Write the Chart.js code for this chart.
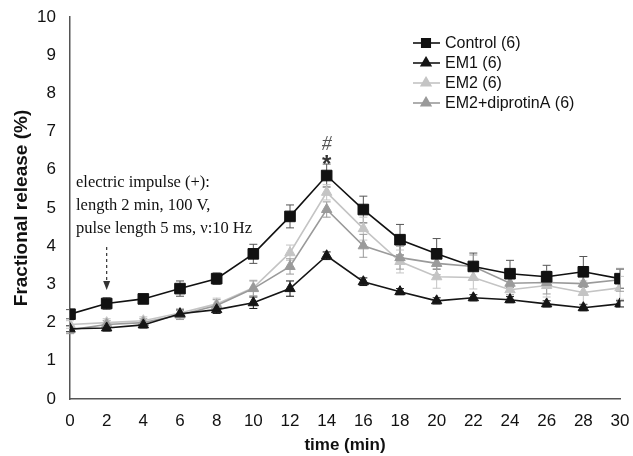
<!DOCTYPE html>
<html>
<head>
<meta charset="utf-8">
<script src="https://cdn.jsdelivr.net/npm/chart.js@4/dist/chart.umd.min.js"></script>
<style>
  html, body { margin: 0; padding: 0; background: #fff; }
  #wrap { width: 633px; height: 456px; }
</style>
</head>
<body>
<div id="wrap"><canvas id="myChart" width="633" height="456"></canvas></div>
<script>
const times = [0, 2, 4, 6, 8, 10, 12, 14, 16, 18, 20, 22, 24, 26, 28, 30];

const control    = [2.22, 2.5, 2.62, 2.89, 3.15, 3.8, 4.78, 5.85, 4.96, 4.17, 3.8, 3.47, 3.28, 3.2, 3.33, 3.15];
const controlErr = [0.12, 0.15, 0.12, 0.2, 0.15, 0.25, 0.3, 0.3, 0.35, 0.4, 0.4, 0.35, 0.35, 0.3, 0.4, 0.25];

const em1    = [1.84, 1.86, 1.94, 2.23, 2.34, 2.52, 2.89, 3.75, 3.07, 2.81, 2.57, 2.65, 2.6, 2.49, 2.39, 2.49];
const em1Err = [0.08, 0.08, 0.08, 0.1, 0.1, 0.15, 0.2, 0.1, 0.1, 0.08, 0.08, 0.08, 0.08, 0.08, 0.08, 0.08];

const em2    = [1.95, 2.0, 2.05, 2.25, 2.49, 2.91, 3.83, 5.41, 4.46, 3.6, 3.2, 3.18, 2.86, 2.97, 2.79, 2.91];
const em2Err = [0.1, 0.1, 0.1, 0.12, 0.15, 0.2, 0.2, 0.2, 0.3, 0.3, 0.3, 0.3, 0.3, 0.3, 0.3, 0.3];

const em2dip    = [1.81, 1.95, 2.0, 2.2, 2.45, 2.89, 3.47, 4.96, 4.01, 3.7, 3.55, 3.47, 3.03, 3.05, 3.02, 3.12];
const em2dipErr = [0.1, 0.1, 0.1, 0.12, 0.15, 0.2, 0.2, 0.2, 0.3, 0.3, 0.3, 0.3, 0.3, 0.3, 0.3, 0.3];

const seriesNames = ["Control (6)", "EM1 (6)", "EM2 (6)", "EM2+diprotinA (6)"];
const impulseText = ["electric impulse (+):", "length 2 min, 100 V,", "pulse length 5 ms, \u03bd:10 Hz"];

function pts(vals) {
  return vals.map((v, i) => ({ x: times[i], y: v }));
}

function makeSet(label, vals, errs, color, style, radius, order) {
  return {
    label: label,
    data: pts(vals),
    errors: errs,
    borderColor: color,
    backgroundColor: color,
    pointBackgroundColor: color,
    pointBorderColor: color,
    pointStyle: style,
    pointRadius: radius,
    pointHoverRadius: radius,
    borderWidth: 1.6,
    pointBorderWidth: 1,
    tension: 0,
    order: order
  };
}

// error bars drawn before the lines
const errorBars = {
  id: "errorBars",
  beforeDatasetsDraw(chart) {
    const ctx = chart.ctx;
    const ys = chart.scales.y;
    ctx.save();
    chart.data.datasets.forEach((ds, di) => {
      const meta = chart.getDatasetMeta(di);
      ctx.strokeStyle = di === 0 ? "#555" : ds.borderColor;
      ctx.lineWidth = 1;
      meta.data.forEach((p, i) => {
        const v = ds.data[i].y, e = ds.errors[i];
        const top = ys.getPixelForValue(v + e);
        const bot = ys.getPixelForValue(v - e);
        ctx.beginPath();
        ctx.moveTo(p.x, top); ctx.lineTo(p.x, bot);
        ctx.moveTo(p.x - 4, top); ctx.lineTo(p.x + 4, top);
        ctx.moveTo(p.x - 4, bot); ctx.lineTo(p.x + 4, bot);
        ctx.stroke();
      });
    });
    ctx.restore();
  }
};

// legend, impulse note, arrow, significance marks
const extras = {
  id: "extras",
  afterDraw(chart) {
    const ctx = chart.ctx;
    const xs = chart.scales.x;
    ctx.save();

    // legend
    ctx.font = "16px 'Liberation Sans', Arial, sans-serif";
    ctx.textBaseline = "middle";
    chart.data.datasets.forEach((ds, i) => {
      const y = 43 + i * 20;
      ctx.strokeStyle = ds.borderColor;
      ctx.lineWidth = 1.6;
      ctx.beginPath(); ctx.moveTo(413, y); ctx.lineTo(440, y); ctx.stroke();
      ctx.fillStyle = ds.borderColor;
      Chart.helpers.drawPoint(ctx, { pointStyle: ds.pointStyle, radius: ds.pointStyle === "rect" ? 6 : 5.5, borderWidth: 1 }, 426, y);
      ctx.fillStyle = "#111";
      ctx.fillText(seriesNames[i], 445, y + 1);
    });

    // impulse text
    ctx.font = "16.5px 'Liberation Serif', 'Times New Roman', serif";
    ctx.fillStyle = "#111";
    ctx.textBaseline = "alphabetic";
    impulseText.forEach((t, i) => ctx.fillText(t, 76, 187 + i * 23));

    // dashed arrow at t = 2
    const ax = xs.getPixelForValue(2);
    ctx.strokeStyle = "#333";
    ctx.lineWidth = 1.2;
    ctx.setLineDash([3, 3]);
    ctx.beginPath(); ctx.moveTo(ax, 247); ctx.lineTo(ax, 282); ctx.stroke();
    ctx.setLineDash([]);
    ctx.fillStyle = "#333";
    ctx.beginPath();
    ctx.moveTo(ax - 3.5, 281); ctx.lineTo(ax + 3.5, 281); ctx.lineTo(ax, 290);
    ctx.closePath(); ctx.fill();

    // # and * above the control peak
    const px = xs.getPixelForValue(14);
    ctx.textAlign = "center";
    ctx.fillStyle = "#555";
    ctx.font = "italic 20px 'Liberation Serif', 'Times New Roman', serif";
    ctx.fillText("#", px, 150);
    ctx.font = "bold 24px 'Liberation Sans', Arial, sans-serif";
    ctx.fillStyle = "#333";
    ctx.fillText("*", px, 172);
    ctx.restore();
  }
};

let ctx = document.getElementById("myChart").getContext("2d");
let myChart = new Chart(ctx, {
  type: "line",
  data: {
    datasets: [
      makeSet(seriesNames[0], control, controlErr, "#111111", "rect", 7.5, 1),
      makeSet(seriesNames[1], em1, em1Err, "#151515", "triangle", 6, 2),
      makeSet(seriesNames[2], em2, em2Err, "#c4c4c4", "triangle", 6, 4),
      makeSet(seriesNames[3], em2dip, em2dipErr, "#9a9a9a", "triangle", 6, 3)
    ]
  },
  options: {
    responsive: false,
    animation: false,
    devicePixelRatio: 1,
    layout: { padding: { top: 17, right: 13, left: 10, bottom: 0 } },
    plugins: { legend: { display: false }, tooltip: { enabled: false } },
    scales: {
      x: {
        type: "linear",
        min: 0, max: 30,
        grid: { display: false, drawOnChartArea: false, tickLength: 5, color: "#555" },
        border: { color: "#555", width: 1.5 },
        ticks: { stepSize: 2, color: "#111", padding: 7, font: { size: 17, family: "'Liberation Sans', Arial, sans-serif" } },
        title: { display: true, text: "time (min)", color: "#111", padding: { top: 0, bottom: 0 }, font: { size: 17, weight: "bold", family: "'Liberation Sans', Arial, sans-serif" } },
        afterFit(s) { s.height = 57; s.paddingLeft = 0; s.paddingRight = 0; }
      },
      y: {
        min: 0, max: 10,
        grid: { display: false, drawOnChartArea: false, tickLength: 5, color: "#555" },
        border: { color: "#555", width: 1.5 },
        ticks: { stepSize: 1, color: "#111", padding: 9, font: { size: 17, family: "'Liberation Sans', Arial, sans-serif" } },
        title: { display: true, text: "Fractional release (%)", color: "#111", padding: { top: 0, bottom: 2 }, font: { size: 19, weight: "bold", family: "'Liberation Sans', Arial, sans-serif" } },
        afterFit(s) { s.width = 60; s.paddingTop = 0; s.paddingBottom = 0; }
      }
    }
  },
  plugins: [errorBars, extras]
});
</script>
</body>
</html>
